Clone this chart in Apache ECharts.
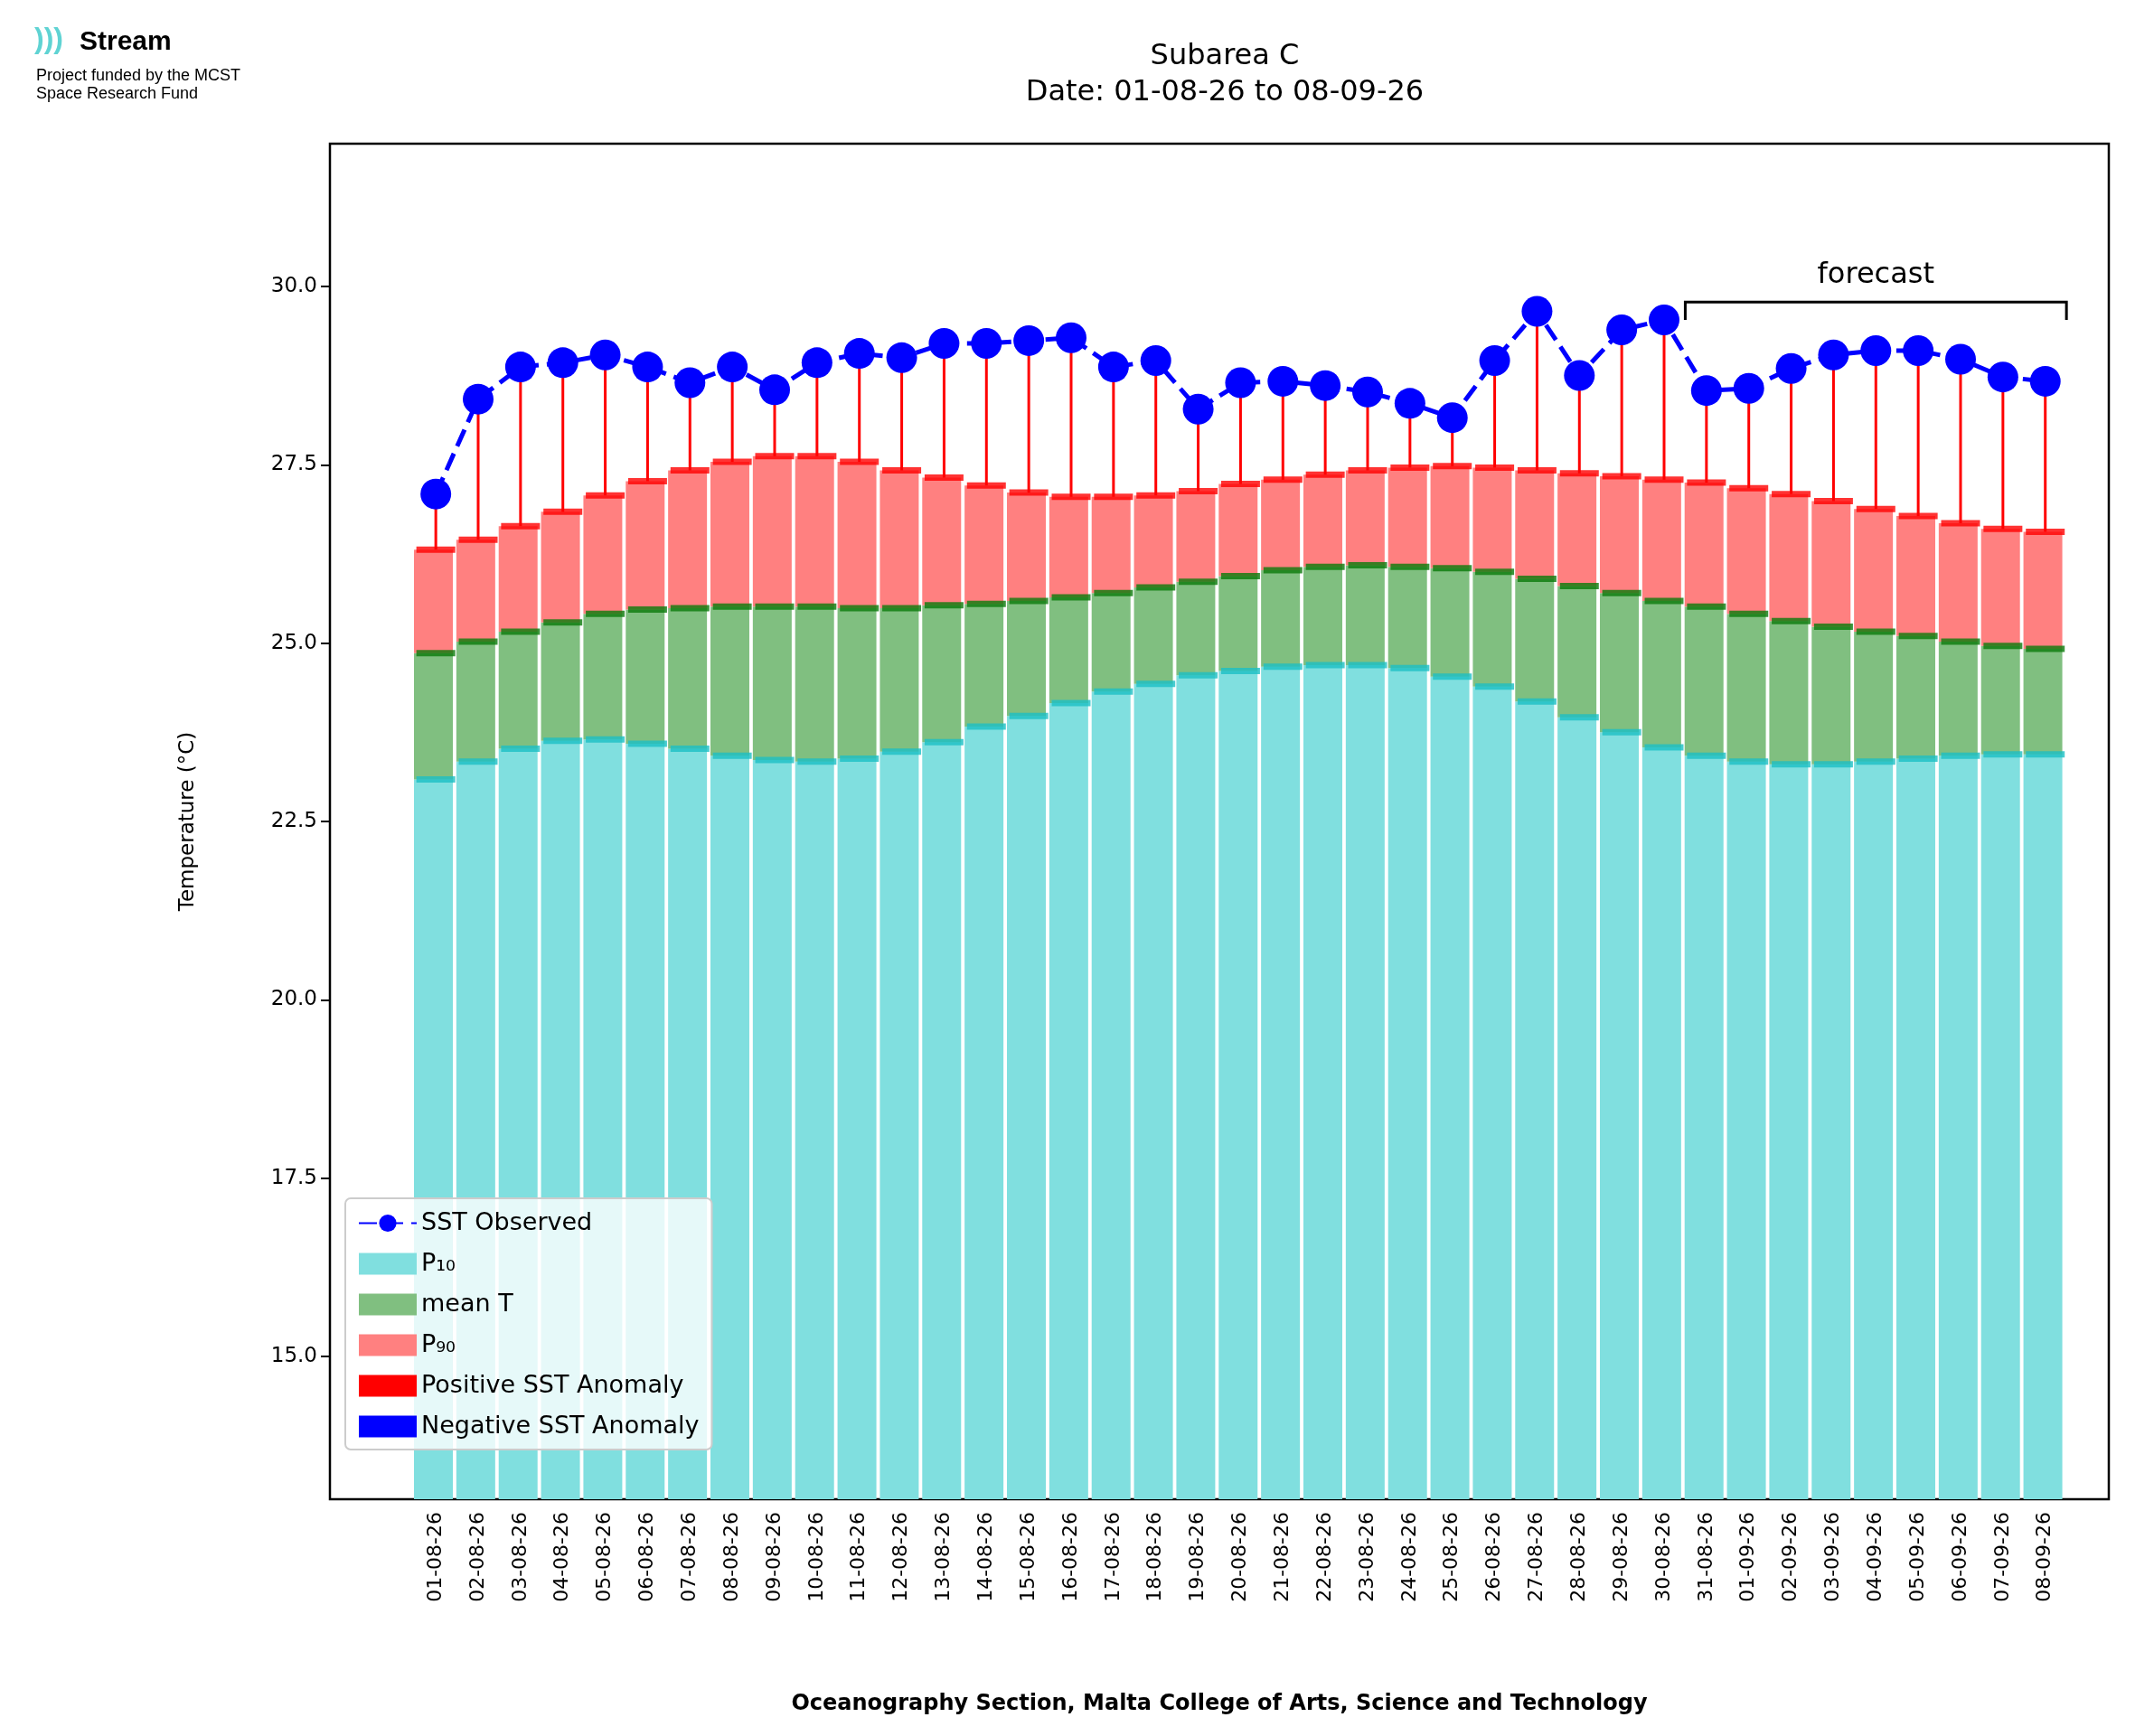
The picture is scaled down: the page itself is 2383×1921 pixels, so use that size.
<!DOCTYPE html>
<html><head><meta charset="utf-8">
<script src="https://cdn.jsdelivr.net/npm/echarts@6/dist/echarts.min.js"></script>
<style>html,body{margin:0;padding:0;background:#fff}#c{width:2383px;height:1921px}</style>
</head><body><div id="c"></div>
<script>
const dates = ['01-08-26','02-08-26','03-08-26','04-08-26','05-08-26','06-08-26','07-08-26','08-08-26','09-08-26','10-08-26','11-08-26','12-08-26','13-08-26','14-08-26','15-08-26','16-08-26','17-08-26','18-08-26','19-08-26','20-08-26','21-08-26','22-08-26','23-08-26','24-08-26','25-08-26','26-08-26','27-08-26','28-08-26','29-08-26','30-08-26','31-08-26','01-09-26','02-09-26','03-09-26','04-09-26','05-09-26','06-09-26','07-09-26','08-09-26'];
const sstObserved = [27.09,28.42,28.87,28.93,29.04,28.87,28.65,28.87,28.55,28.93,29.06,29.0,29.2,29.2,29.24,29.28,28.87,28.96,28.28,28.65,28.67,28.61,28.52,28.36,28.16,28.96,29.65,28.75,29.39,29.53,28.54,28.57,28.85,29.04,29.1,29.1,28.98,28.73,28.67];
const p90 = [26.31,26.45,26.64,26.84,27.07,27.27,27.42,27.54,27.62,27.62,27.54,27.42,27.32,27.21,27.11,27.05,27.05,27.07,27.13,27.23,27.29,27.36,27.42,27.46,27.48,27.46,27.42,27.38,27.34,27.29,27.25,27.17,27.09,26.99,26.88,26.78,26.68,26.6,26.56];
const meanT = [24.86,25.02,25.16,25.29,25.41,25.47,25.49,25.51,25.51,25.51,25.49,25.49,25.53,25.55,25.59,25.64,25.7,25.78,25.86,25.94,26.02,26.07,26.09,26.07,26.05,26.0,25.9,25.8,25.7,25.59,25.51,25.41,25.31,25.23,25.16,25.1,25.02,24.96,24.92];
const p10 = [23.09,23.34,23.52,23.63,23.65,23.59,23.52,23.42,23.36,23.34,23.38,23.48,23.61,23.83,23.98,24.16,24.32,24.43,24.55,24.61,24.67,24.69,24.69,24.65,24.53,24.39,24.18,23.96,23.75,23.54,23.42,23.34,23.3,23.3,23.34,23.38,23.42,23.44,23.44];
const yTicks = [15,17.5,20,22.5,25,27.5,30];
const forecastStart = '31-08-26';

const cats = ['','',...dates,''];
const BW = 43;
const pair = arr => dates.map((d,i)=>[d,arr[i]]);
const diff = (a,b) => dates.map((d,i)=>[d,+(a[i]-b[i]).toFixed(3)]);
const fi = dates.indexOf(forecastStart);

const chart = echarts.init(document.getElementById('c'));
chart.setOption({
  animation:false,
  textStyle:{fontFamily:'DejaVu Sans'},
  title:{text:'Subarea C\nDate: 01-08-26 to 08-09-26',left:1350,top:38,textAlign:'center',
    textStyle:{fontSize:32,fontWeight:'normal',color:'#000',lineHeight:40,fontFamily:'DejaVu Sans'}},
  graphic:[
    {type:'text',left:38,top:28,style:{text:')))',fontSize:32,fontWeight:'bold',fill:'#5fd3d3'}},
    {type:'text',left:88,top:32,style:{text:'Stream',fontSize:30,fontWeight:'bold',fill:'#000'}},
    {type:'text',left:40,top:74,style:{text:'Project funded by the MCST\nSpace Research Fund',fontSize:18,lineHeight:20,fill:'#000'}}
  ],
  grid:{left:365,right:50,top:159,bottom:262,show:true,borderColor:'#000',borderWidth:2.5,backgroundColor:'transparent'},
  legend:{left:382,top:1326,orient:'vertical',itemGap:18,itemWidth:64,itemHeight:24,
    backgroundColor:'rgba(255,255,255,0.8)',borderColor:'#ccc',borderWidth:2,borderRadius:6,padding:[14,14,12,14],
    textStyle:{fontSize:27,color:'#000'},
    data:[{name:'SST Observed'},{name:'P₁₀',icon:'rect'},{name:'mean T',icon:'rect'},{name:'P₉₀',icon:'rect'},
      {name:'Positive SST Anomaly',icon:'rect'},{name:'Negative SST Anomaly',icon:'rect'}]},
  xAxis:{type:'category',data:cats,boundaryGap:true,
    name:'Oceanography Section, Malta College of Arts, Science and Technology',nameLocation:'middle',nameGap:215,
    nameTextStyle:{fontSize:24,fontWeight:'bold',color:'#000'},
    axisLine:{show:false},
    axisTick:{alignWithLabel:true,length:10,lineStyle:{color:'#000',width:2},interval:(i,v)=>v!==''},
    axisLabel:{rotate:90,fontSize:22,color:'#000',interval:0,margin:14},
    splitLine:{show:false}},
  yAxis:{type:'value',min:13,max:32,
    name:'Temperature (°C)',nameLocation:'middle',nameGap:145,nameTextStyle:{fontSize:23,color:'#000'},
    axisLine:{show:false},
    axisTick:{show:true,length:10,lineStyle:{color:'#000',width:2},customValues:yTicks},
    axisLabel:{fontSize:23,color:'#000',margin:14,formatter:v=>v.toFixed(1),customValues:yTicks},
    splitLine:{show:false}},
  series:[
    {name:'P₁₀',type:'bar',stack:'s',barWidth:BW,data:pair(p10),itemStyle:{color:'#80dfdf'},z:1},
    {name:'mean T',type:'bar',stack:'s',barWidth:BW,data:diff(meanT,p10),itemStyle:{color:'#80bf80'},z:1},
    {name:'P₉₀',type:'bar',stack:'s',barWidth:BW,data:diff(p90,meanT),itemStyle:{color:'#ff8080'},z:1},
    {type:'scatter',symbol:'rect',symbolSize:[BW,7],data:pair(p10),itemStyle:{color:'#1cbfc4'},z:3,silent:true},
    {type:'scatter',symbol:'rect',symbolSize:[BW,7],data:pair(meanT),itemStyle:{color:'#0a7a0a'},z:3,silent:true},
    {type:'scatter',symbol:'rect',symbolSize:[BW,7],data:pair(p90),itemStyle:{color:'#ff0000'},z:3,silent:true},
    {name:'Positive SST Anomaly',type:'custom',itemStyle:{color:'#ff0000'},z:4,
      data:dates.map((d,i)=>[d,p90[i],sstObserved[i]]),
      encode:{x:0,y:[1,2]},
      renderItem:(params,api)=>{
        const a=api.coord([api.value(0),api.value(1)]), b=api.coord([api.value(0),api.value(2)]);
        return {type:'line',shape:{x1:a[0],y1:a[1],x2:b[0],y2:b[1]},style:{stroke:'#ff0000',lineWidth:3}};
      }},
    {name:'Negative SST Anomaly',type:'bar',data:[],itemStyle:{color:'#0000ff'}},
    {name:'SST Observed',type:'line',data:pair(sstObserved),symbol:'circle',symbolSize:34,
      lineStyle:{color:'#0000ff',width:5,type:[20,9]},itemStyle:{color:'#0000ff'},z:5},
    {type:'custom',z:6,silent:true,data:[[dates[dates.length-1],29.78]],encode:{x:0,y:1},
      renderItem:(params,api)=>{
        const s=api.coord([fi+2,29.78]), e=api.coord([dates.length-1+2,29.78]);
        const w=api.size([1,0])[0]/2, drop=api.size([0,0.25])[1];
        const x1=s[0]-w, x2=e[0]+w, y=s[1];
        return {type:'group',children:[
          {type:'polyline',shape:{points:[[x1,y+drop],[x1,y],[x2,y],[x2,y+drop]]},style:{stroke:'#000',lineWidth:3,fill:null}},
          {type:'text',style:{text:'forecast',x:(x1+x2)/2,y:y-14,align:'center',verticalAlign:'bottom',fontSize:32,fill:'#000',fontFamily:'DejaVu Sans'}}
        ]};
      }}
  ]
});
</script></body></html>
